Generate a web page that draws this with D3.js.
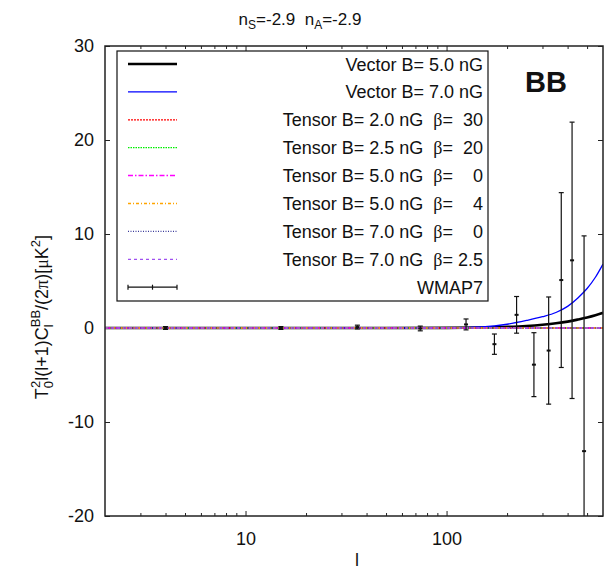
<!DOCTYPE html>
<html>
<head>
<meta charset="utf-8">
<script src="https://cdn.jsdelivr.net/npm/d3@7"></script>
<style>
  body { margin: 0; background: #fff; }
  text { font-family: "Liberation Sans", Arial, Helvetica, sans-serif; }
</style>
</head>
<body>
<div id="chart"></div>
<script>
// WMAP7 BB band powers: multipole, value, 1-sigma error
var wmapL   = [4, 15, 36, 74, 125, 173, 223, 272, 322, 372, 421, 483];
var wmapVal = [0.0, 0.0, 0.1, -0.05, 0.38, -1.72, 1.4, -3.9, -2.4, 5.1, 7.2, -13.1];
var wmapErr = [0.15, 0.15, 0.2, 0.25, 0.58, 1.08, 1.95, 3.4, 5.7, 9.3, 14.7, 22.9];

// vector mode curves
var vecL  = [2, 10, 50, 100, 150, 200, 250, 300, 350, 400, 450, 500, 550, 600];
var vec5  = [0, 0, 0, 0.01, 0.05, 0.12, 0.22, 0.35, 0.5, 0.68, 0.9, 1.12, 1.36, 1.62];
var vec7  = [0, 0, 0, 0.02, 0.12, 0.4, 0.8, 1.2, 1.65, 2.3, 3.2, 4.2, 5.4, 6.8];

// tensor mode curves (all sit on zero at this scale)
var tenL  = [2, 10, 100, 600];
var ten20 = [0, 0, 0, 0];
var ten25 = [0, 0, 0, 0];
var ten50a = [0, 0, 0, 0];
var ten50b = [0, 0, 0, 0];
var ten70a = [0, 0, 0, 0];
var ten70b = [0, 0, 0, 0];

var legendLabels = [
    "Vector B= 5.0 nG",
    "Vector B= 7.0 nG",
    "Tensor B= 2.0 nG  \u03b2=  30",
    "Tensor B= 2.5 nG  \u03b2=  20",
    "Tensor B= 5.0 nG  \u03b2=    0",
    "Tensor B= 5.0 nG  \u03b2=    4",
    "Tensor B= 7.0 nG  \u03b2=    0",
    "Tensor B= 7.0 nG  \u03b2= 2.5",
    "WMAP7"
];

var xMajorTicks = [10, 100];
var xMinorTicks = [3, 4, 5, 6, 7, 8, 9, 20, 30, 40, 50, 60, 70, 80, 90, 200, 300, 400, 500];
var yTicks = [-20, -10, 0, 10, 20, 30];

var svg = d3.select("#chart")
    .append("svg")
    .attr("width", 615)
    .attr("height", 570),
    margin = { top: 46, right: 12, bottom: 54, left: 105 },
    width = 615 - margin.left - margin.right,
    height = 570 - margin.top - margin.bottom,
    g = svg.append("g").attr("transform", "translate(" + margin.left + "," + margin.top + ")");

var x = d3.scaleLog().domain([2, 600]).range([0, width]),
    y = d3.scaleLinear().domain([-20, 30]).range([height, 0]);

var FONT = 18;
var plain = function (d) { return String(d); };   // hyphen minus like the original

// axes, ticks drawn inward and mirrored
function styleAxis(sel) {
    sel.select(".domain").remove();
    sel.attr("font-size", FONT)
        .attr("font-family", "'Liberation Sans', Arial, Helvetica, sans-serif");
    sel.selectAll("line").attr("stroke", "#222").attr("stroke-width", 1);
    sel.selectAll("text").attr("fill", "#111");
}

g.append("g").attr("transform", "translate(0," + height + ")")
    .call(d3.axisBottom(x).tickValues(xMajorTicks).tickSize(-5).tickPadding(16).tickFormat(plain))
    .call(styleAxis);
g.append("g").attr("transform", "translate(0," + height + ")")
    .call(d3.axisBottom(x).tickValues(xMinorTicks).tickSize(-3).tickFormat(""))
    .call(styleAxis);
g.append("g")
    .call(d3.axisTop(x).tickValues(xMajorTicks).tickSize(-5).tickFormat(""))
    .call(styleAxis);
g.append("g")
    .call(d3.axisTop(x).tickValues(xMinorTicks).tickSize(-3).tickFormat(""))
    .call(styleAxis);
g.append("g")
    .call(d3.axisLeft(y).tickValues(yTicks).tickSize(-5).tickPadding(11).tickFormat(plain))
    .call(styleAxis);
g.append("g").attr("transform", "translate(" + width + ",0)")
    .call(d3.axisRight(y).tickValues(yTicks).tickSize(-5).tickFormat(""))
    .call(styleAxis);

// clip for curves and error bars
svg.append("defs").append("clipPath").attr("id", "plotclip")
    .append("rect").attr("width", width).attr("height", height);
var plot = g.append("g").attr("clip-path", "url(#plotclip)");

var line = d3.line()
    .curve(d3.curveMonotoneX)
    .x(function (d) { return x(d[0]); })
    .y(function (d) { return y(d[1]); });

function zip(ls, vs) { return ls.map(function (l, i) { return [l, vs[i]]; }); }

var series = [
    { l: vecL, v: vec5,  color: "#000000", w: 2.6, dash: null },
    { l: vecL, v: vec7,  color: "#0000ff", w: 1.3, dash: null },
    { l: tenL, v: ten20, color: "#ff0000", w: 1.3, dash: "2,1" },
    { l: tenL, v: ten25, color: "#00ee00", w: 1.3, dash: "1.5,1" },
    { l: tenL, v: ten50a, color: "#ff00ff", w: 1.5, dash: "5,2,1.5,2" },
    { l: tenL, v: ten50b, color: "#ffa500", w: 1.3, dash: "3,2,1,2" },
    { l: tenL, v: ten70a, color: "#3a3a9a", w: 1.2, dash: "1,1.5" },
    { l: tenL, v: ten70b, color: "#a050f0", w: 1.3, dash: "3,3" }
];

// vectors first, tensors on top (they make the coloured zero line)
series.forEach(function (s) {
    plot.append("path")
        .datum(zip(s.l, s.v))
        .attr("fill", "none")
        .attr("stroke", s.color)
        .attr("stroke-width", s.w)
        .attr("stroke-dasharray", s.dash)
        .attr("d", line);
});

// WMAP7 error bars
var wmap = wmapL.map(function (l, i) { return { l: l, v: wmapVal[i], e: wmapErr[i] }; });
var bars = plot.selectAll(".eb").data(wmap).enter().append("g").attr("class", "eb")
    .attr("stroke", "#111").attr("stroke-width", 1.2);
bars.append("line")
    .attr("x1", function (d) { return x(d.l); }).attr("x2", function (d) { return x(d.l); })
    .attr("y1", function (d) { return y(d.v - d.e); }).attr("y2", function (d) { return y(d.v + d.e); });
bars.append("line")
    .attr("x1", function (d) { return x(d.l) - 2.5; }).attr("x2", function (d) { return x(d.l) + 2.5; })
    .attr("y1", function (d) { return y(d.v + d.e); }).attr("y2", function (d) { return y(d.v + d.e); });
bars.append("line")
    .attr("x1", function (d) { return x(d.l) - 2.5; }).attr("x2", function (d) { return x(d.l) + 2.5; })
    .attr("y1", function (d) { return y(d.v - d.e); }).attr("y2", function (d) { return y(d.v - d.e); });
bars.append("line")
    .attr("x1", function (d) { return x(d.l) - 2; }).attr("x2", function (d) { return x(d.l) + 2; })
    .attr("y1", function (d) { return y(d.v); }).attr("y2", function (d) { return y(d.v); })
    .attr("stroke-width", 2);

// frame
g.append("rect")
    .attr("width", width).attr("height", height)
    .attr("fill", "none").attr("stroke", "#222").attr("stroke-width", 1.5);

// legend
var legend = g.append("g").attr("transform", "translate(12,5)");
legend.append("rect")
    .attr("width", 371).attr("height", 250)
    .attr("fill", "#fff").attr("stroke", "#111").attr("stroke-width", 1.2);

var rowH = 27.9;
legendLabels.forEach(function (label, i) {
    var ry = 13 + i * rowH;
    if (i < series.length) {
        var s = series[i];
        legend.append("line")
            .attr("x1", 11).attr("x2", 60).attr("y1", ry).attr("y2", ry)
            .attr("stroke", s.color).attr("stroke-width", s.w)
            .attr("stroke-dasharray", s.dash);
    } else {
        legend.append("line").attr("x1", 11).attr("x2", 60).attr("y1", ry).attr("y2", ry)
            .attr("stroke", "#111").attr("stroke-width", 1.2);
        [11, 35.5, 60].forEach(function (cx) {
            legend.append("line").attr("x1", cx).attr("x2", cx).attr("y1", ry - 2.5).attr("y2", ry + 2.5)
                .attr("stroke", "#111").attr("stroke-width", 1.2);
        });
    }
    var t = legend.append("text")
        .attr("x", 366).attr("y", ry + 6.5)
        .attr("text-anchor", "end")
        .attr("font-size", 18)
        .attr("fill", "#111")
        .style("white-space", "pre");
    var parts = label.split("\u03b2");
    t.append("tspan").text(parts[0]);
    if (parts.length > 1) {
        t.append("tspan").attr("font-family", "'Liberation Serif', 'DejaVu Serif', serif").text("\u03b2");
        t.append("tspan").text(parts[1]);
    }
});

// "BB" panel tag
g.append("text")
    .attr("x", 420).attr("y", 46)
    .attr("font-size", 29).attr("font-weight", "bold").attr("fill", "#111")
    .text("BB");

// title
var title = svg.append("text").attr("x", 300).attr("y", 25)
    .attr("text-anchor", "middle").attr("font-size", 17).attr("fill", "#111")
    .style("white-space", "pre");
title.append("tspan").text("n");
title.append("tspan").attr("font-size", 12).attr("dy", 4).text("S");
title.append("tspan").attr("dy", -4).text("=-2.9  n");
title.append("tspan").attr("font-size", 12).attr("dy", 4).text("A");
title.append("tspan").attr("dy", -4).text("=-2.9");

// x label
svg.append("text").attr("x", 357).attr("y", 566)
    .attr("text-anchor", "middle").attr("font-size", FONT).attr("fill", "#111")
    .text("l");

// y label
var ylab = svg.append("text")
    .attr("transform", "translate(48,317) rotate(-90)")
    .attr("text-anchor", "middle").attr("font-size", FONT).attr("fill", "#111");
ylab.append("tspan").text("T");
ylab.append("tspan").attr("font-size", 13).attr("dy", 5).text("0");
ylab.append("tspan").attr("font-size", 13).attr("dx", -7).attr("dy", -13).text("2");
ylab.append("tspan").attr("dy", 8).text("l(l+1)C");
ylab.append("tspan").attr("font-size", 13).attr("dy", 5).text("l");
ylab.append("tspan").attr("font-size", 13).attr("dx", -3).attr("dy", -13).text("BB");
ylab.append("tspan").attr("dy", 8).text("/(2");
ylab.append("tspan").attr("font-family", "'Liberation Serif', 'DejaVu Serif', serif").text("\u03c0");
ylab.append("tspan").text(")[");
ylab.append("tspan").attr("font-family", "'Liberation Serif', 'DejaVu Serif', serif").text("\u03bc");
ylab.append("tspan").text("K");
ylab.append("tspan").attr("font-size", 13).attr("dy", -8).text("2");
ylab.append("tspan").attr("dy", 8).text("]");
</script>
</body>
</html>
